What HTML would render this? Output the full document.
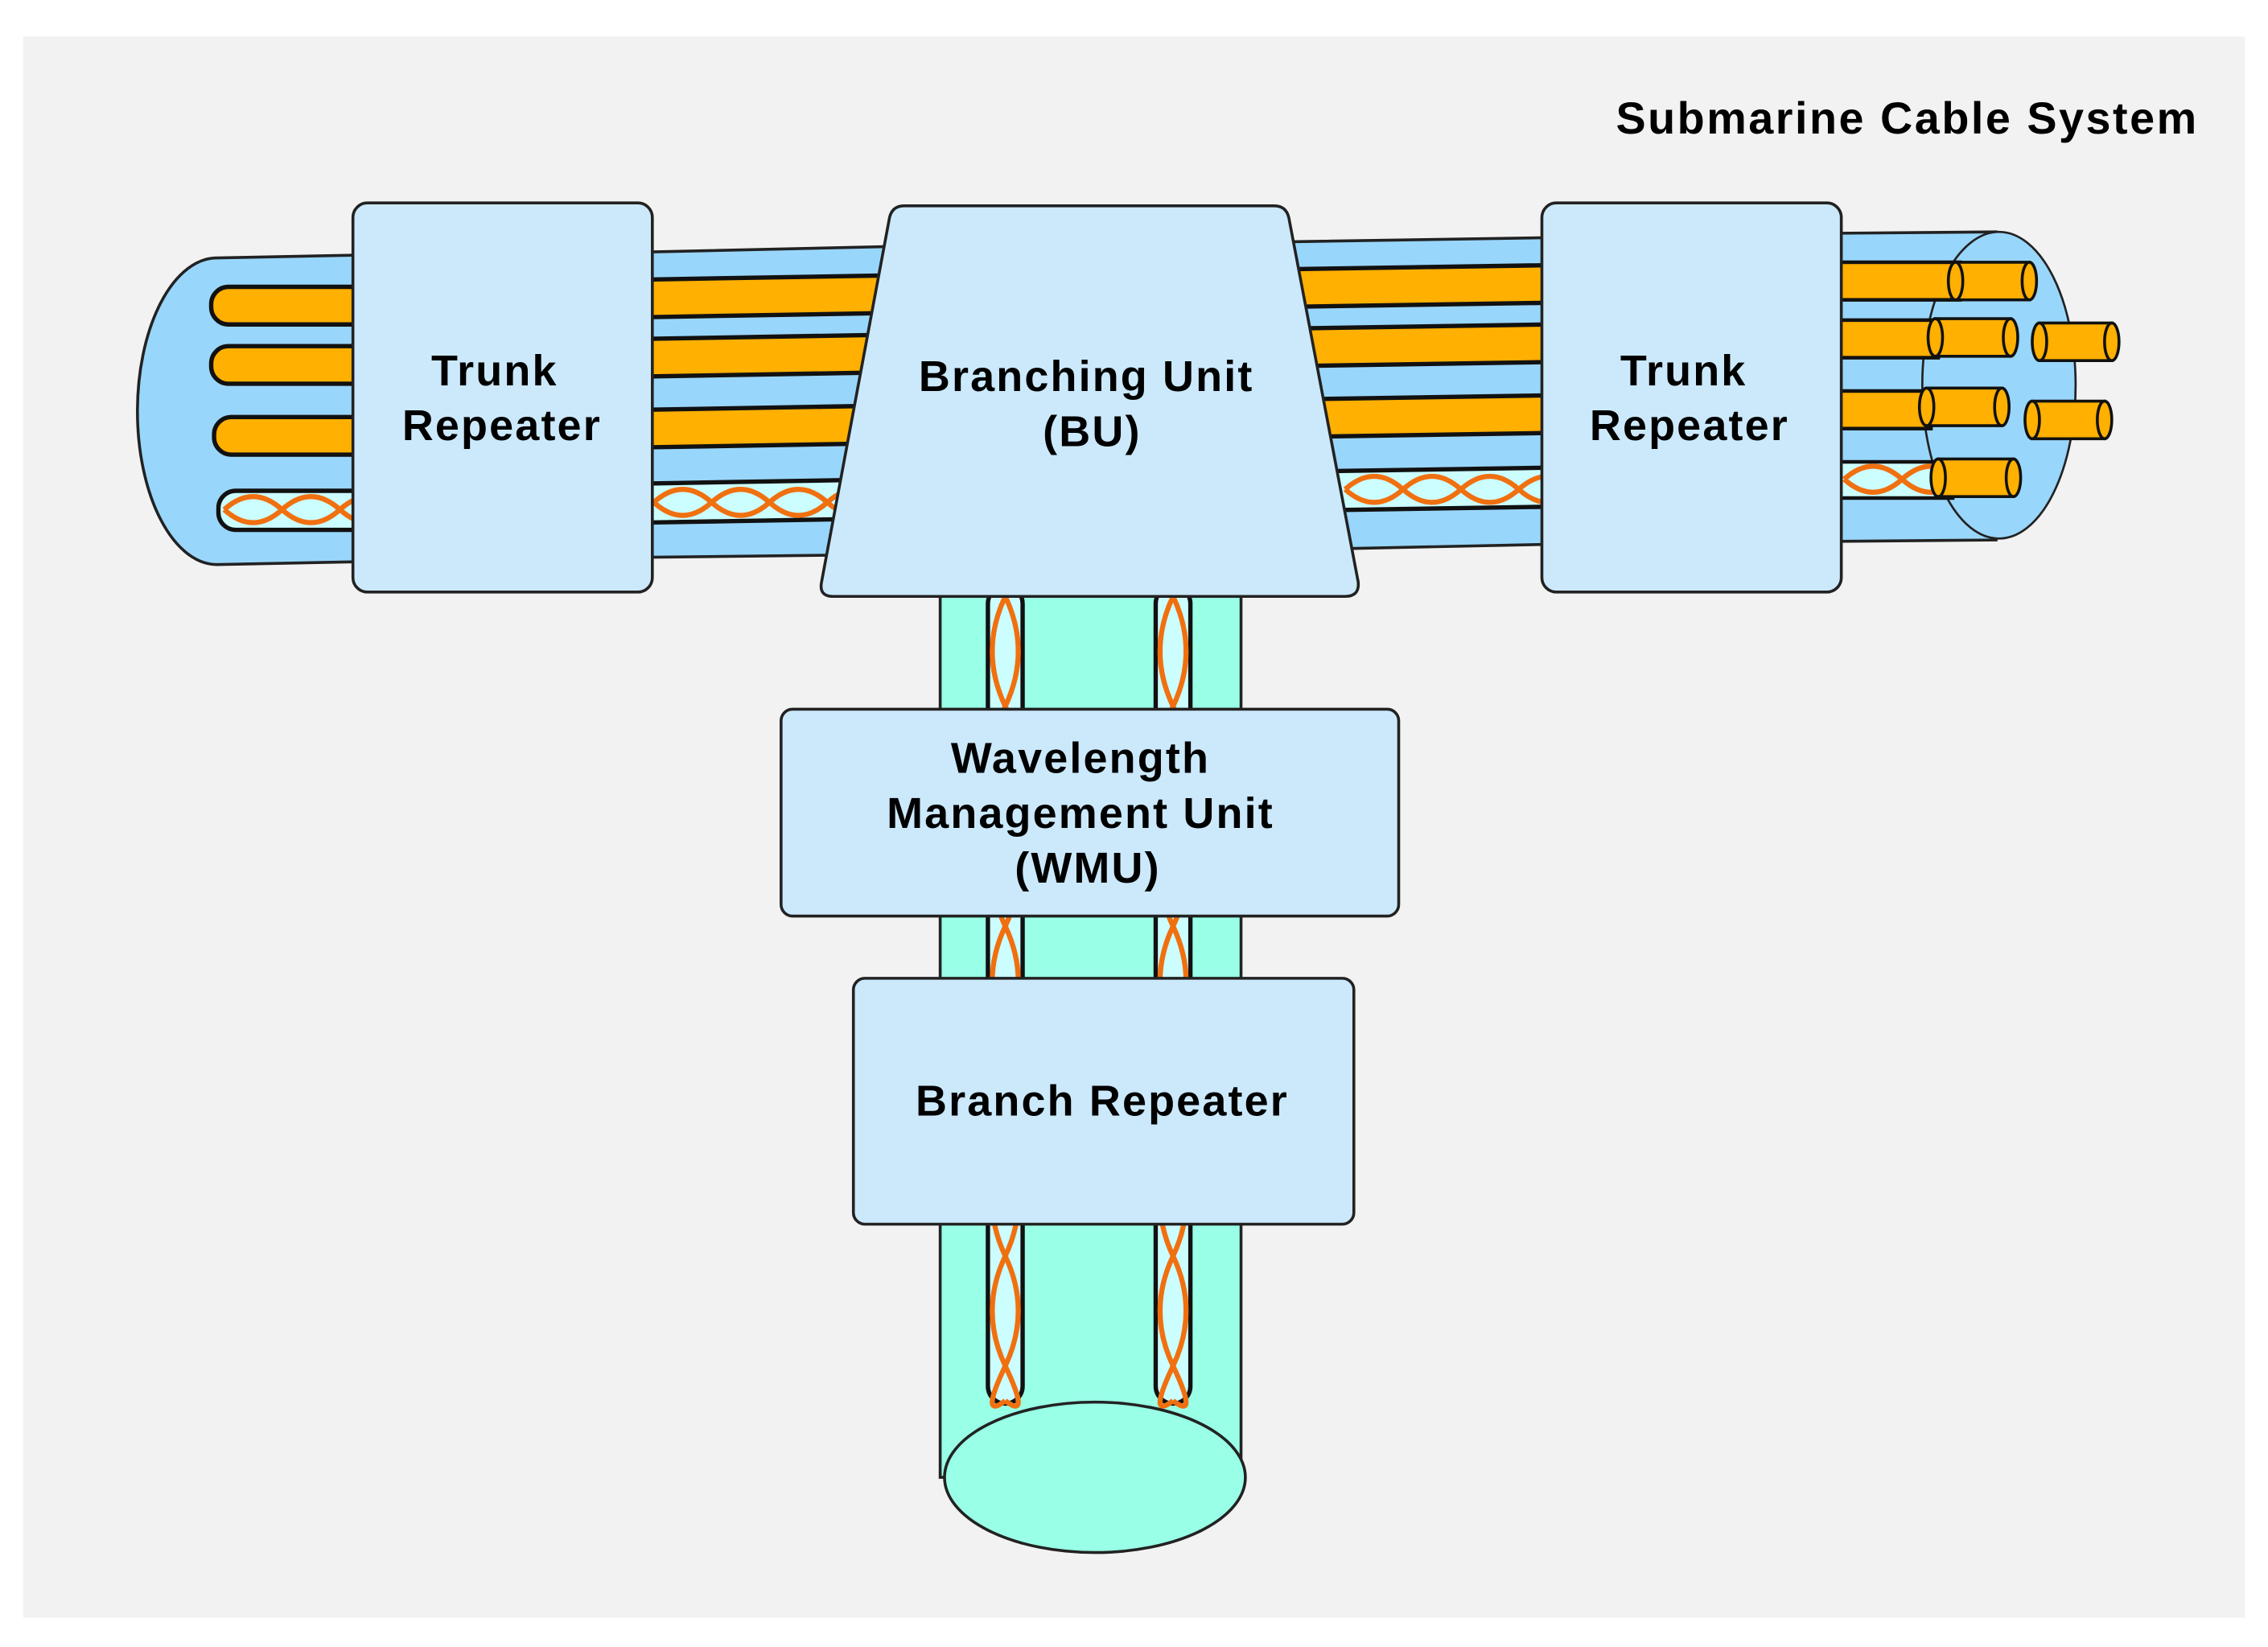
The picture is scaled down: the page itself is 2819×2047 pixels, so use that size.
<!DOCTYPE html>
<html><head><meta charset="utf-8"><style>
html,body{margin:0;padding:0;background:#fff}
svg{display:block}
text{font-family:"Liberation Sans",Arial,sans-serif;font-weight:bold;fill:#000}
</style></head><body>
<svg width="2819" height="2047" viewBox="0 0 1568 1138" xmlns="http://www.w3.org/2000/svg">
<rect x="0" y="0" width="1568" height="1138" fill="#fff"/>
<rect x="16" y="25" width="1536" height="1093" fill="#f2f2f2"/>
<text x="1520" y="92" font-size="31" letter-spacing="1.4" text-anchor="end">Submarine Cable System</text>

<!-- vertical branch cable -->
<rect x="650" y="405" width="208" height="616" fill="#99ffe6" stroke="#222" stroke-width="2"/>
<ellipse cx="757" cy="1021" rx="104" ry="52" fill="#99ffe6" stroke="#222" stroke-width="2"/>
<g fill="#ccfdff" stroke="#111" stroke-width="3">
<rect x="683" y="405" width="24" height="565" rx="12"/>
<rect x="799" y="405" width="24" height="565" rx="12"/>
</g>
<g fill="none" stroke="#f07010" stroke-width="3.5">
<path d="M695 412 Q713 450 695 488 T695 564 T695 640 T695 716 T695 792 T695 868 T695 944 T695 968"/>
<path d="M695 412 Q677 450 695 488 T695 564 T695 640 T695 716 T695 792 T695 868 T695 944 T695 968"/>
<path d="M811 412 Q829 450 811 488 T811 564 T811 640 T811 716 T811 792 T811 868 T811 944 T811 968"/>
<path d="M811 412 Q793 450 811 488 T811 564 T811 640 T811 716 T811 792 T811 868 T811 944 T811 968"/>
</g>

<!-- left cable -->
<path d="M150 178 L250 176 L250 388 L150 390 A55 106 0 0 1 150 178 Z" fill="#99d6fb" stroke="#222" stroke-width="2"/>
<g fill="#ffb000" stroke="#111" stroke-width="3">
<rect x="146" y="198" width="110" height="26" rx="12"/>
<rect x="146" y="239" width="110" height="26" rx="12"/>
<rect x="148" y="288" width="110" height="26" rx="12"/>
</g>
<rect x="151" y="339" width="105" height="27" rx="12" fill="#ccfdff" stroke="#111" stroke-width="3"/>
<g fill="none" stroke="#f07010" stroke-width="3.5">
<path d="M155 352 Q175 334 195 352 T235 352 T275 352"/>
<path d="M155 352 Q175 370 195 352 T235 352 T275 352"/>
</g>

<!-- middle-left cable segment -->
<polygon points="445,174 620,170 620,383 445,385" fill="#99d6fb" stroke="#222" stroke-width="2"/>
<g fill="#ffb000" stroke="#111" stroke-width="3">
<polygon points="445,193 620,190 620,216 445,219"/>
<polygon points="445,234 620,231 620,257 445,260"/>
<polygon points="445,283 620,280 620,306 445,309"/>
</g>
<polygon points="445,334 620,331 620,358 445,361" fill="#ccfdff" stroke="#111" stroke-width="3"/>
<g fill="none" stroke="#f07010" stroke-width="3.5">
<path d="M452 347 Q472 329 492 347 T532 347 T572 347 T612 347"/>
<path d="M452 347 Q472 365 492 347 T532 347 T572 347 T612 347"/>
</g>

<!-- middle-right cable segment -->
<polygon points="880,167 1072,164 1072,376 880,380" fill="#99d6fb" stroke="#222" stroke-width="2"/>
<g fill="#ffb000" stroke="#111" stroke-width="3">
<polygon points="880,186 1072,183 1072,209 880,212"/>
<polygon points="880,227 1072,224 1072,250 880,253"/>
<polygon points="880,276 1072,273 1072,299 880,302"/>
</g>
<polygon points="880,326 1072,323 1072,350 880,353" fill="#ccfdff" stroke="#111" stroke-width="3"/>
<g fill="none" stroke="#f07010" stroke-width="3.5">
<path d="M930 338 Q950 320 970 338 T1010 338 T1050 338 T1090 338"/>
<path d="M930 338 Q950 356 970 338 T1010 338 T1050 338 T1090 338"/>
</g>

<!-- right cable -->
<path d="M1265 161 L1380 160 L1380 373 L1265 374 Z" fill="#99d6fb" stroke="#222" stroke-width="2"/>
<ellipse cx="1382" cy="266" rx="53" ry="106" fill="#99d6fb" stroke="#222" stroke-width="1.5"/>
<g fill="#ffb000" stroke="#111" stroke-width="2.5">
<rect x="1265" y="181" width="90" height="26"/>
<rect x="1265" y="221" width="75" height="26"/>
<rect x="1265" y="270" width="70" height="26"/>
</g>
<rect x="1265" y="319" width="85" height="25" fill="#ccfdff" stroke="#111" stroke-width="2.5"/>
<g fill="none" stroke="#f07010" stroke-width="3.5">
<path d="M1275 331 Q1295 313 1315 331 T1355 331"/>
<path d="M1275 331 Q1295 349 1315 331 T1355 331"/>
</g>
<!-- cylinder stubs -->
<g fill="#ffb000" stroke="#111" stroke-width="2">
<path d="M1352 181 L1403 181 L1403 207 L1352 207 Z"/><ellipse cx="1352" cy="194" rx="5" ry="13"/><ellipse cx="1403" cy="194" rx="5" ry="13"/>
<path d="M1338 220 L1390 220 L1390 246 L1338 246 Z"/><ellipse cx="1338" cy="233" rx="5" ry="13"/><ellipse cx="1390" cy="233" rx="5" ry="13"/>
<path d="M1332 268 L1384 268 L1384 294 L1332 294 Z"/><ellipse cx="1332" cy="281" rx="5" ry="13"/><ellipse cx="1384" cy="281" rx="5" ry="13"/>
<path d="M1340 317 L1392 317 L1392 343 L1340 343 Z"/><ellipse cx="1340" cy="330" rx="5" ry="13"/><ellipse cx="1392" cy="330" rx="5" ry="13"/>
<path d="M1410 223 L1460 223 L1460 249 L1410 249 Z"/><ellipse cx="1410" cy="236" rx="5" ry="13"/><ellipse cx="1460" cy="236" rx="5" ry="13"/>
<path d="M1405 277 L1455 277 L1455 303 L1405 303 Z"/><ellipse cx="1405" cy="290" rx="5" ry="13"/><ellipse cx="1455" cy="290" rx="5" ry="13"/>
</g>

<!-- boxes -->
<g fill="#cce9fc" stroke="#222" stroke-width="2">
<rect x="244" y="140" width="207" height="269" rx="10"/>
<rect x="1066" y="140" width="207" height="269" rx="10"/>
<path d="M625 142 L881 142 Q889 142 891 150 L939 402 Q940 412 930 412 L576 412 Q566 412 568 402 L615 150 Q617 142 625 142 Z"/>
<rect x="540" y="490" width="427" height="143" rx="8"/>
<rect x="590" y="676" width="346" height="170" rx="8"/>
</g>

<g font-size="30" letter-spacing="1.2" text-anchor="middle">
<text x="342" y="266">Trunk</text>
<text x="347" y="304">Repeater</text>
<text x="1164" y="266">Trunk</text>
<text x="1168" y="304">Repeater</text>
<text x="751" y="270">Branching Unit</text>
<text x="755" y="308">(BU)</text>
<text x="747" y="534">Wavelength</text>
<text x="747" y="572">Management Unit</text>
<text x="752" y="610">(WMU)</text>
<text x="762" y="771">Branch Repeater</text>
</g>
</svg>
</body></html>
